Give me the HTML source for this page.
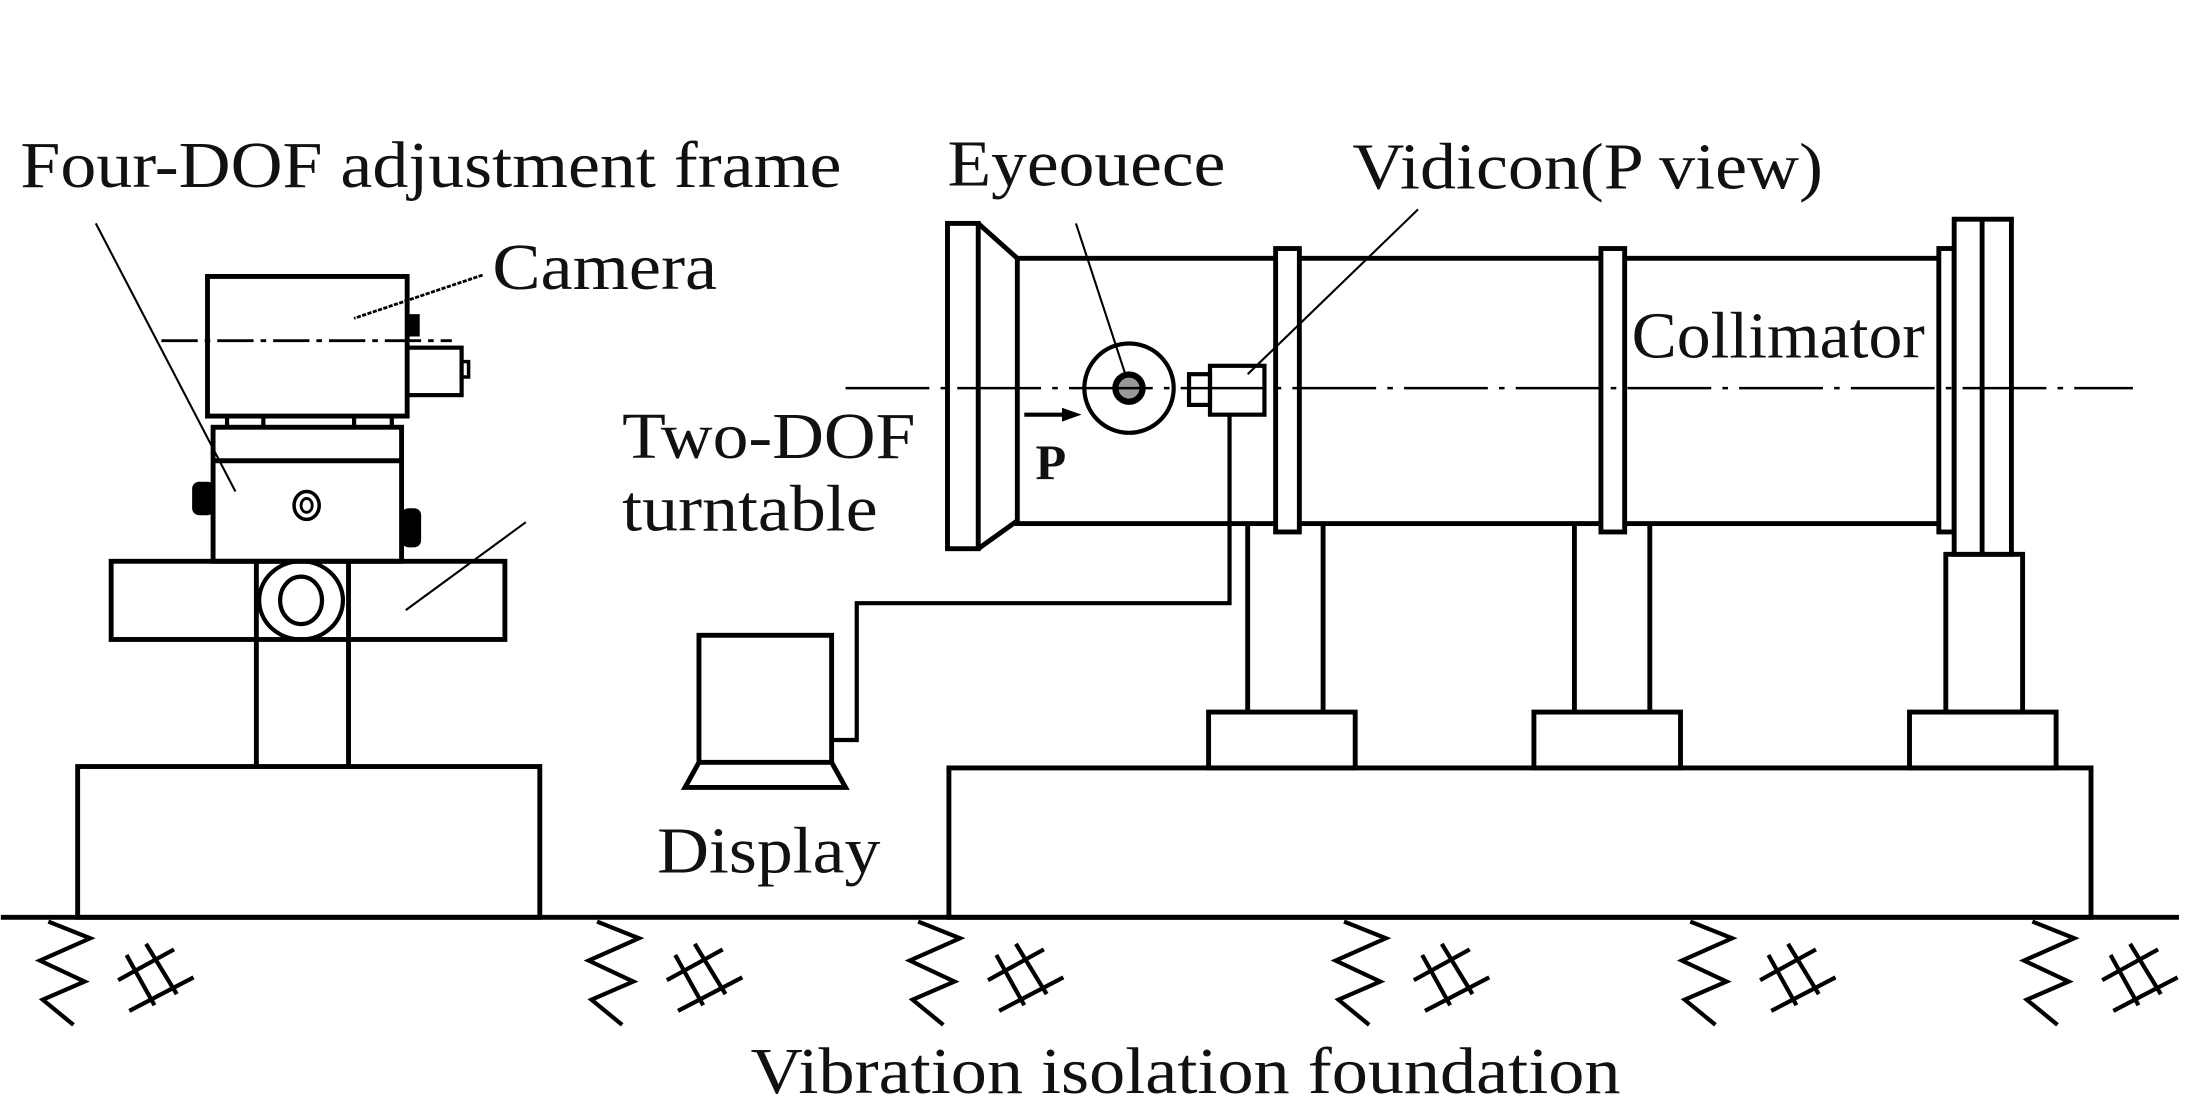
<!DOCTYPE html>
<html><head><meta charset="utf-8"><style>html,body{margin:0;padding:0;background:#fff}svg{display:block}.t{font-family:"Liberation Serif","Times New Roman",serif;font-size:47px;fill:#111}</style></head>
<body>
<svg width="2191" height="1110" viewBox="0 0 1568 795" xmlns="http://www.w3.org/2000/svg">
<defs>
<g id="sp" fill="none" stroke="#000" stroke-width="3">
<path d="M12,2 L42,14 L6,30 L38,45 L8,58 L30,76"/>
<path d="M68,26 L88,62 M82,18 L104,54 M62,44 L102,22 M70,66 L116,42"/>
</g>
</defs>
<g fill="none" stroke="#000" stroke-width="3.5">
<line x1="0" y1="657" x2="1560" y2="657"/>
<rect x="55" y="549" width="331" height="108"/>
<line x1="183" y1="458" x2="183" y2="549"/><line x1="249" y1="458" x2="249" y2="549"/>
<rect x="79" y="402" width="282" height="56"/>
<line x1="183" y1="402" x2="183" y2="458"/><line x1="249" y1="402" x2="249" y2="458"/>
<ellipse cx="215" cy="430" rx="30" ry="28" stroke-width="3"/>
<ellipse cx="215" cy="430" rx="15" ry="17" stroke-width="3"/>
<rect x="152" y="306" width="135" height="96"/>
<line x1="152" y1="330" x2="287" y2="330"/>
<ellipse cx="219" cy="362" rx="9" ry="10" stroke-width="2.5"/>
<ellipse cx="219" cy="362" rx="4" ry="5" stroke-width="2"/>
<rect x="162" y="298" width="26" height="8" stroke-width="3"/>
<rect x="253" y="298" width="27" height="8" stroke-width="3"/>
<rect x="148" y="198" width="143" height="100"/>
<rect x="291" y="249" width="39" height="34" stroke-width="3"/>
<rect x="330" y="259" width="5" height="11" stroke-width="2.5"/>
</g>
<rect x="291" y="225" width="9" height="16" fill="#000"/>
<rect x="137" y="345" width="16" height="24" rx="5" fill="#000"/>
<rect x="287" y="364" width="14" height="28" rx="5" fill="#000"/>
<g fill="none" stroke="#000">
<line x1="115" y1="244" x2="323" y2="244" stroke-width="2" stroke-dasharray="26,5,4,5"/>
<line x1="68" y1="160" x2="168" y2="352" stroke-width="1.5"/>
<line x1="345" y1="197" x2="253" y2="228" stroke-width="2" stroke-dasharray="3,1"/>
<line x1="290" y1="437" x2="376" y2="374" stroke-width="1.5"/>
</g>
<g fill="none" stroke="#000" stroke-width="3.5">
<rect x="500" y="455" width="95" height="91"/>
<path d="M500,546 L490,564 L605,564 L595,546"/>
<path d="M595,530 L613,530 L613,432 L880,432 L880,297" stroke-width="3"/>
<rect x="679" y="550" width="818" height="107"/>
<rect x="865" y="510" width="105" height="40"/>
<rect x="1098" y="510" width="105" height="40"/>
<rect x="1367" y="510" width="105" height="40"/>
<line x1="893" y1="375" x2="893" y2="510"/><line x1="947" y1="375" x2="947" y2="510"/>
<line x1="1127" y1="375" x2="1127" y2="510"/><line x1="1181" y1="375" x2="1181" y2="510"/>
<rect x="1393" y="397" width="55" height="113"/>
<rect x="678" y="160" width="22" height="233"/>
<path d="M700,160 L728,185 M700,393 L728,373"/>
<rect x="728" y="185" width="662" height="190"/>
<rect x="913" y="178" width="17" height="203" fill="#fff"/>
<rect x="1146" y="178" width="17" height="203" fill="#fff"/>
<rect x="1388" y="178" width="11" height="203" fill="#fff"/>
<rect x="1399" y="157" width="41" height="240" fill="#fff"/>
<line x1="1419" y1="157" x2="1419" y2="397"/>
<rect x="866" y="262" width="39" height="35" stroke-width="3"/>
<rect x="851" y="268" width="15" height="22" stroke-width="3"/>
<circle cx="808" cy="278" r="32" stroke-width="3"/>
</g>
<circle cx="808" cy="278" r="12" fill="#000"/>
<circle cx="808" cy="278" r="8" fill="#999" stroke="#000" stroke-width="1"/>
<g fill="none" stroke="#000">
<line x1="605" y1="278" x2="1527" y2="278" stroke-width="1.8" stroke-dasharray="60,8,4,8"/>
<line x1="770" y1="160" x2="806" y2="270" stroke-width="1.5"/>
<line x1="1015" y1="150" x2="893" y2="268" stroke-width="1.5"/>
<line x1="733" y1="297" x2="762" y2="297" stroke-width="3"/>
</g>
<path d="M760,292 L774,297 L760,302 Z" fill="#000"/>
<use href="#sp" x="22" y="658"/>
<use href="#sp" x="415" y="658"/>
<use href="#sp" x="645" y="658"/>
<use href="#sp" x="950" y="658"/>
<use href="#sp" x="1198" y="658"/>
<use href="#sp" x="1443" y="658"/>
<g>
<text class="t" x="14" y="134" textLength="588" lengthAdjust="spacingAndGlyphs">Four-DOF adjustment frame</text>
<text class="t" x="352" y="207" textLength="161" lengthAdjust="spacingAndGlyphs">Camera</text>
<text class="t" x="678" y="133" textLength="199" lengthAdjust="spacingAndGlyphs">Eyeouece</text>
<text class="t" x="968" y="135" textLength="337" lengthAdjust="spacingAndGlyphs">Vidicon(P view)</text>
<text class="t" x="1168" y="256" textLength="210" lengthAdjust="spacingAndGlyphs">Collimator</text>
<text class="t" x="445" y="328" textLength="210" lengthAdjust="spacingAndGlyphs">Two-DOF</text>
<text class="t" x="445" y="380" textLength="183" lengthAdjust="spacingAndGlyphs">turntable</text>
<text class="t" x="470" y="625" textLength="160" lengthAdjust="spacingAndGlyphs">Display</text>
<text class="t" x="537" y="783" textLength="623" lengthAdjust="spacingAndGlyphs">Vibration isolation foundation</text>
<text class="t" x="741" y="343" style="font-size:36px;font-weight:bold">P</text>
</g>
</svg>
</body></html>
